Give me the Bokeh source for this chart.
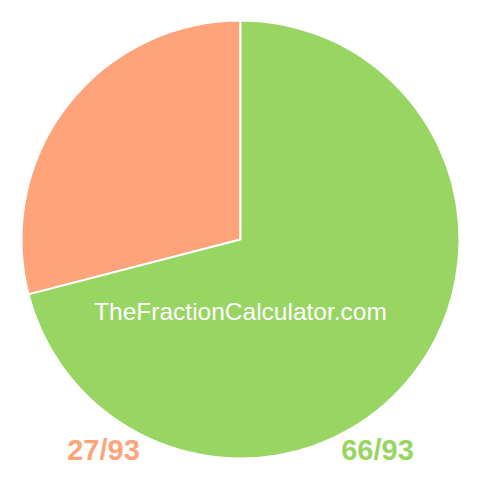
import math
from bokeh.plotting import figure
from bokeh.models import Range1d, ColumnDataSource
from bokeh.core.properties import value
from bokeh.embed import file_html
from bokeh.resources import INLINE

# Data
categories = ["27/93", "66/93"]
numerators = [27, 66]
denominator = 93
colors = ["#ffa47a", "#99d562"]
watermark = "TheFractionCalculator.com"

W = H = 464
p = figure(width=W, height=H, output_backend="svg", toolbar_location=None,
           x_range=Range1d(0, W), y_range=Range1d(0, H), min_border=0)
p.axis.visible = False
p.grid.visible = False
p.outline_line_color = None
p.background_fill_color = "white"
p.border_fill_color = "white"

def X(xi):
    return xi

def Y(yi):
    return H - yi

cx, cy, r = X(240), Y(239), 219

# green slice starts at top going clockwise; orange fills the rest
green_frac = numerators[1] / denominator
orange_frac = numerators[0] / denominator
g_start = math.pi / 2 - 2 * math.pi * green_frac
g_end = math.pi / 2
o_start = math.pi / 2
o_end = math.pi / 2 + 2 * math.pi * orange_frac

src = ColumnDataSource(dict(
    x=[cx, cx], y=[cy, cy],
    start=[o_start, g_start], end=[o_end, g_end],
    color=colors,
))
p.wedge(x="x", y="y", radius=r, start_angle="start", end_angle="end",
        fill_color="color", line_color="white", line_width=2, source=src)

p.text(x=[X(240)], y=[Y(311)], text=[watermark], text_color="white",
       text_font=value("Liberation Sans"), text_font_size="24.5px",
       text_align="center", text_baseline="middle")

p.text(x=[X(103), X(377)], y=[Y(449), Y(449)], text=categories,
       text_color=colors, text_font=value("Liberation Sans"),
       text_font_style="bold", text_font_size="29px",
       text_align="center", text_baseline="middle")

open("out.html", "w").write(file_html(p, INLINE))
